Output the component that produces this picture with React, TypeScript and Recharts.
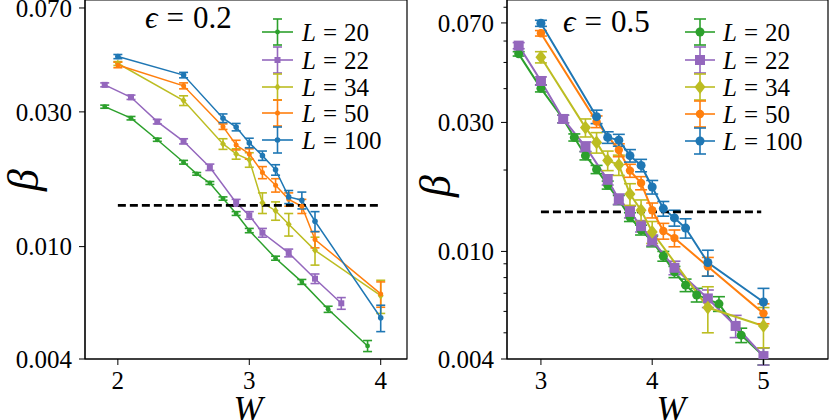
import React from "react";
import {
  LineChart,
  Line,
  XAxis,
  YAxis,
  ErrorBar,
  ReferenceLine,
  ReferenceArea,
  Legend,
} from "recharts";

const FONT = "'Liberation Serif', 'Times New Roman', 'DejaVu Serif', serif";

const GREEN = "#2ca02c";
const PURPLE = "#9467bd";
const OLIVE = "#bcbd22";
const ORANGE = "#ff7f0e";
const BLUE = "#1f77b4";

const sizes = ["20", "22", "34", "50", "100"];

// epsilon = 0.2
const wA20 = [1.9, 2.1, 2.3, 2.5, 2.6, 2.7, 2.8, 2.9, 3.0, 3.2, 3.4, 3.6, 3.9];
const bA20 = [0.0313, 0.0285, 0.0239, 0.0199, 0.0181, 0.0168, 0.0148, 0.0131, 0.0114, 0.0091, 0.0075, 0.006, 0.00445];
const eA20 = [0.0004, 0.0004, 0.0003, 0.0003, 0.0002, 0.0002, 0.0002, 0.0002, 0.0002, 0.00015, 0.00015, 0.00015, 0.0002];

const wA22 = [1.9, 2.1, 2.3, 2.5, 2.7, 2.9, 3.0, 3.1, 3.3, 3.5, 3.7];
const bA22 = [0.0374, 0.0338, 0.0277, 0.0236, 0.0191, 0.0143, 0.0129, 0.0112, 0.0095, 0.0077, 0.0063];
const eA22 = [0.0006, 0.0006, 0.0005, 0.0005, 0.0005, 0.0004, 0.0004, 0.0004, 0.0003, 0.0003, 0.0003];

const wA34 = [2.0, 2.5, 2.8, 2.9, 3.0, 3.1, 3.2, 3.3, 3.5, 4.0];
const bA34 = [0.0445, 0.0329, 0.0231, 0.0213, 0.0203, 0.0143, 0.0134, 0.012, 0.0097, 0.0067];
const eA34 = [0.0007, 0.0013, 0.001, 0.0009, 0.0012, 0.0012, 0.001, 0.0011, 0.0011, 0.0009];

const wA50 = [2.0, 2.5, 2.8, 2.9, 3.0, 3.1, 3.2, 3.3, 3.4, 3.5, 4.0];
const bA50 = [0.044, 0.0371, 0.0266, 0.0229, 0.0213, 0.0183, 0.0165, 0.0147, 0.0139, 0.0106, 0.0068];
const eA50 = [0.001, 0.0009, 0.0006, 0.0009, 0.0009, 0.0009, 0.0009, 0.0008, 0.0008, 0.0007, 0.0007];

const wA100 = [2.0, 2.5, 2.8, 2.9, 3.0, 3.1, 3.2, 3.3, 3.4, 3.5, 4.0];
const bA100 = [0.0471, 0.0405, 0.0285, 0.0265, 0.0233, 0.021, 0.0187, 0.015, 0.0146, 0.0123, 0.0056];
const eA100 = [0.0008, 0.0009, 0.001, 0.0008, 0.0009, 0.0008, 0.0008, 0.0008, 0.001, 0.001, 0.0006];

// epsilon = 0.5
const wB20 = [2.8, 3.0, 3.2, 3.3, 3.4, 3.5, 3.6, 3.7, 3.8, 3.9, 4.0, 4.1, 4.2, 4.3, 4.4, 4.6, 4.8, 5.0];
const bB20 = [0.0538, 0.0401, 0.0309, 0.0264, 0.0226, 0.0201, 0.0176, 0.0155, 0.0134, 0.012, 0.0109, 0.0096, 0.0084, 0.0075, 0.0069, 0.0064, 0.0049, 0.0041];
const eB20 = [0.001, 0.0012, 0.001, 0.0008, 0.0008, 0.0007, 0.0006, 0.0006, 0.0005, 0.0005, 0.0005, 0.0004, 0.0004, 0.0004, 0.0004, 0.0004, 0.0003, 0.0003];

const wB22 = [2.8, 3.0, 3.2, 3.4, 3.6, 3.7, 3.8, 3.9, 4.0, 4.2, 4.5, 4.75, 5.0];
const bB22 = [0.0577, 0.0427, 0.0309, 0.0244, 0.0184, 0.0156, 0.014, 0.0124, 0.011, 0.0087, 0.0067, 0.0053, 0.0041];
const eB22 = [0.0015, 0.0015, 0.001, 0.001, 0.0008, 0.0007, 0.0007, 0.0006, 0.0005, 0.0005, 0.0005, 0.0005, 0.0003];

const wB34 = [3.0, 3.4, 3.5, 3.6, 3.7, 3.8, 3.9, 4.0, 4.5, 5.0];
const bB34 = [0.0523, 0.0287, 0.0253, 0.0217, 0.0209, 0.0163, 0.0142, 0.0118, 0.0062, 0.0053];
const eB34 = [0.0025, 0.0022, 0.0022, 0.0018, 0.0018, 0.0015, 0.0013, 0.0011, 0.0012, 0.0009];

const wB50 = [3.0, 3.5, 3.7, 3.8, 3.9, 4.0, 4.1, 4.2, 4.5, 5.0];
const bB50 = [0.0641, 0.0302, 0.0237, 0.0199, 0.0179, 0.0142, 0.0119, 0.0112, 0.0088, 0.0059];
const eB50 = [0.0015, 0.0015, 0.0013, 0.0011, 0.001, 0.0009, 0.0008, 0.0008, 0.0007, 0.0005];

const wB100 = [3.0, 3.5, 3.6, 3.7, 3.8, 3.9, 4.0, 4.1, 4.2, 4.3, 4.5, 5.0];
const bB100 = [0.0698, 0.0315, 0.0264, 0.0258, 0.0226, 0.0208, 0.0173, 0.0144, 0.0133, 0.0122, 0.0091, 0.0065];
const eB100 = [0.0018, 0.0018, 0.0013, 0.0013, 0.0012, 0.0011, 0.001, 0.0009, 0.0009, 0.001, 0.001, 0.0008];

const yMajor = [0.004, 0.01, 0.03, 0.07];
const yMinorB = [0.005, 0.006, 0.007, 0.008, 0.009, 0.02, 0.04, 0.05, 0.06, 0.08];
const betaCut = 0.014;

const zip = (w: number[], b: number[], e: number[]) =>
  w.map((x, i) => ({ W: x, b: b[i], e: e[i] }));

function Marker({ cx, cy, shape, size, color }: any) {
  if (cx == null || cy == null) return null;
  if (shape === "square")
    return <rect x={cx - size} y={cy - size} width={size * 2} height={size * 2} fill={color} />;
  if (shape === "diamond")
    return (
      <polygon
        points={`${cx},${cy - size * 1.25} ${cx + size},${cy} ${cx},${cy + size * 1.25} ${cx - size},${cy}`}
        fill={color}
      />
    );
  return <circle cx={cx} cy={cy} r={size} fill={color} />;
}

function YTick({ y, payload, axisX }: any) {
  const major = yMajor.some((m) => Math.abs(m - payload.value) < 1e-9);
  return (
    <g>
      <line x1={axisX - (major ? 6 : 3.5)} x2={axisX} y1={y} y2={y} stroke="#000" strokeWidth={1} />
      {major && (
        <text x={axisX - 13} y={y} dy="0.35em" textAnchor="end" fontFamily={FONT} fontSize={25} fill="#000">
          {payload.value.toFixed(3)}
        </text>
      )}
    </g>
  );
}

function Overlay({ title, titleX, titleY, rows, hx1, hx2, textX, cap, series, betaX, betaY, wX }: any) {
  const hm = (hx1 + hx2) / 2;
  return (
    <svg width={420} height={420} style={{ position: "absolute", left: 0, top: 0, overflow: "visible" }}>
      <text x={titleX} y={titleY} fontFamily={FONT} fontSize={31} fill="#000">
        <tspan fontStyle="italic">ϵ</tspan>
        <tspan dx={9}>=</tspan>
        <tspan dx={9}>{title}</tspan>
      </text>
      {series.map((s: any, i: number) => (
        <g key={s.label}>
          <line x1={hx1} x2={hx2} y1={rows[i]} y2={rows[i]} stroke={s.color} strokeWidth={1.6} />
          <line x1={hm} x2={hm} y1={rows[i] - 13} y2={rows[i] + 13} stroke={s.color} strokeWidth={1.6} />
          <line x1={hm - cap} x2={hm + cap} y1={rows[i] - 13} y2={rows[i] - 13} stroke={s.color} strokeWidth={1.6} />
          <line x1={hm - cap} x2={hm + cap} y1={rows[i] + 13} y2={rows[i] + 13} stroke={s.color} strokeWidth={1.6} />
          <Marker cx={hm} cy={rows[i]} shape={s.shape} size={s.size} color={s.color} />
          <text x={textX} y={rows[i] + 8.5} fontFamily={FONT} fontSize={25} fill="#000">
            <tspan fontStyle="italic">L</tspan>
            <tspan dx={7}>=</tspan>
            <tspan dx={7}>{s.label}</tspan>
          </text>
        </g>
      ))}
      <text
        x={betaX}
        y={betaY}
        fontFamily={FONT}
        fontSize={44}
        fontStyle="italic"
        textAnchor="middle"
        dominantBaseline="central"
        transform={`rotate(-90, ${betaX}, ${betaY})`}
        fill="#000"
      >
        β
      </text>
      <text x={wX} y={421} fontFamily={FONT} fontSize={35} fontStyle="italic" textAnchor="middle" fill="#000">
        W
      </text>
    </svg>
  );
}

function Panel(p: any) {
  return (
    <div style={{ position: "absolute", left: p.left, top: 0 }}>
      <LineChart
        width={p.width}
        height={420}
        margin={{ top: 0, right: p.rightM, bottom: 0, left: 0 }}
      >
        <XAxis
          type="number"
          dataKey="W"
          domain={p.xDom}
          ticks={p.xTicks}
          allowDataOverflow
          interval={0}
          height={61}
          tickSize={6}
          tickMargin={6}
          stroke="#000"
          tick={{ fontFamily: FONT, fontSize: 25, fill: "#000" }}
        />
        <YAxis
          type="number"
          scale="log"
          domain={p.yDom}
          ticks={p.yTicks}
          allowDataOverflow
          interval={0}
          width={p.yAxisW}
          tickLine={false}
          stroke="#000"
          tick={(t: any) => <YTick {...t} axisX={p.yAxisW} />}
        />
        <ReferenceArea
          x1={p.xDom[0]}
          x2={p.xDom[1]}
          y1={p.yDom[0]}
          y2={p.yDom[1]}
          fill="none"
          fillOpacity={0}
          stroke="#000"
          strokeWidth={1.2}
          ifOverflow="visible"
        />
        {p.series.map((s: any) => (
          <Line
            key={s.label}
            data={zip(s.w, s.b, s.e)}
            dataKey="b"
            type="linear"
            stroke={s.color}
            strokeWidth={p.lw}
            isAnimationActive={false}
            activeDot={false}
            legendType="none"
            dot={(d: any) => (
              <Marker key={`${s.label}-${d.index}`} cx={d.cx} cy={d.cy} shape={s.shape} size={s.size} color={s.color} />
            )}
          >
            <ErrorBar
              dataKey="e"
              direction="y"
              width={p.cap}
              stroke={s.color}
              strokeWidth={1.6}
              isAnimationActive={false}
            />
          </Line>
        ))}
        <ReferenceLine
          segment={[
            { x: p.hline[0], y: betaCut },
            { x: p.hline[1], y: betaCut },
          ]}
          stroke="#000"
          strokeWidth={2.8}
          strokeDasharray="8 4"
          ifOverflow="visible"
        />
        <Legend
          layout="vertical"
          align="center"
          verticalAlign="middle"
          wrapperStyle={{ left: 0, top: 0, width: p.width, height: 420, pointerEvents: "none" }}
          content={() => <Overlay {...p.overlay} series={p.series} cap={p.cap} />}
        />
      </LineChart>
    </div>
  );
}

const seriesA = [
  { label: sizes[0], color: GREEN, shape: "circle", size: 2.4, w: wA20, b: bA20, e: eA20 },
  { label: sizes[1], color: PURPLE, shape: "square", size: 3, w: wA22, b: bA22, e: eA22 },
  { label: sizes[2], color: OLIVE, shape: "diamond", size: 3, w: wA34, b: bA34, e: eA34 },
  { label: sizes[3], color: ORANGE, shape: "circle", size: 2.5, w: wA50, b: bA50, e: eA50 },
  { label: sizes[4], color: BLUE, shape: "circle", size: 2.8, w: wA100, b: bA100, e: eA100 },
];

const seriesB = [
  { label: sizes[0], color: GREEN, shape: "circle", size: 4.5, w: wB20, b: bB20, e: eB20 },
  { label: sizes[1], color: PURPLE, shape: "square", size: 5, w: wB22, b: bB22, e: eB22 },
  { label: sizes[2], color: OLIVE, shape: "diamond", size: 5.5, w: wB34, b: bB34, e: eB34 },
  { label: sizes[3], color: ORANGE, shape: "circle", size: 4.2, w: wB50, b: bB50, e: eB50 },
  { label: sizes[4], color: BLUE, shape: "circle", size: 4.5, w: wB100, b: bB100, e: eB100 },
];

export default function App() {
  return (
    <div style={{ position: "absolute", left: 0, top: 0, width: 831, height: 420, background: "#fff", overflow: "hidden" }}>
      <Panel
        left={0}
        width={415}
        rightM={8}
        yAxisW={85}
        xDom={[1.75, 4.2]}
        xTicks={[2, 3, 4]}
        yDom={[0.004, 0.0747]}
        yTicks={yMajor}
        series={seriesA}
        lw={1.5}
        cap={4.5}
        hline={[2, 4]}
        overlay={{
          title: "0.2",
          titleX: 145,
          titleY: 28,
          rows: [32, 60, 87, 113, 140],
          hx1: 262,
          hx2: 293,
          textX: 302,
          betaX: 23,
          betaY: 180,
          wX: 248,
        }}
      />
      <Panel
        left={415}
        width={416}
        rightM={3}
        yAxisW={92}
        xDom={[2.695, 5.58]}
        xTicks={[3, 4, 5]}
        yDom={[0.004, 0.0851]}
        yTicks={[...yMajor, ...yMinorB].sort((a, b) => a - b)}
        series={seriesB}
        lw={2}
        cap={6}
        hline={[3, 4.98]}
        overlay={{
          title: "0.5",
          titleX: 148,
          titleY: 32,
          rows: [32, 60, 87, 114, 141],
          hx1: 270,
          hx2: 300,
          textX: 308,
          betaX: 20,
          betaY: 186,
          wX: 256,
        }}
      />
    </div>
  );
}
